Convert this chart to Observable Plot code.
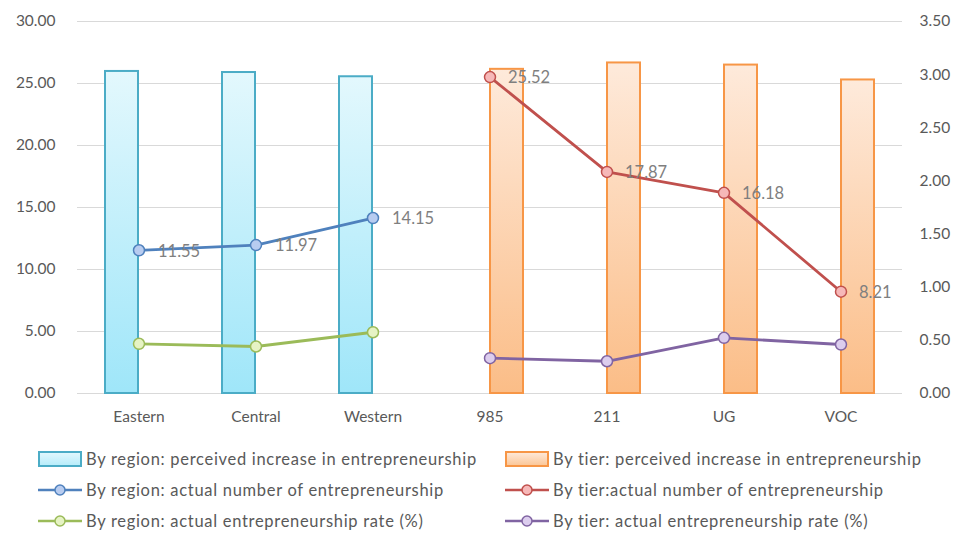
<!DOCTYPE html>
<html>
<head>
<meta charset="utf-8">
<script src="https://cdn.jsdelivr.net/npm/d3@7"></script>
<script src="https://cdn.jsdelivr.net/npm/@observablehq/plot@0.6"></script>
<style>
  html, body { margin: 0; padding: 0; background: #fff; }
  #wrap { position: relative; width: 959px; height: 534px; font-family: Lato, "Open Sans", sans-serif; }
  #legend { position: absolute; left: 0; top: 444px; width: 959px; }
  .item { position: absolute; display: flex; align-items: center; font-size: 16.5px; letter-spacing: 0.7px; color: #595959; white-space: nowrap; }
  .item svg { margin-right: 4px; }
</style>
</head>
<body>
<div id="wrap"><div id="chart"></div><div id="legend"></div></div>
<script>
const categories = ["Eastern", "Central", "Western", "985", "211", "UG", "VOC"];
const regionCats = ["Eastern", "Central", "Western"];
const tierCats = ["985", "211", "UG", "VOC"];
// perceived increase (right axis, 0–3.5)
const regionPerceived = [3.03, 3.02, 2.98];
const tierPerceived = [3.05, 3.11, 3.09, 2.95];
// actual number of entrepreneurship (left axis, 0–30)
const regionActualNumber = [11.55, 11.97, 14.15];
const tierActualNumber = [25.52, 17.87, 16.18, 8.21];
// actual entrepreneurship rate (%) (left axis)
const regionRate = [4.01, 3.79, 4.94];
const tierRate = [2.85, 2.60, 4.49, 3.95];
const leftTicks = [0, 5, 10, 15, 20, 25, 30];
const rightTicks = [0, 0.5, 1, 1.5, 2, 2.5, 3, 3.5];

const k = 30 / 3.5;
const zip = (cats, vals) => cats.map((c, i) => ({c, v: vals[i]}));
const rP = zip(regionCats, regionPerceived);
const tP = zip(tierCats, tierPerceived);
const rN = zip(regionCats, regionActualNumber);
const tN = zip(tierCats, tierActualNumber);
const rR = zip(regionCats, regionRate);
const tR = zip(tierCats, tierRate);

const blue = "#4f81bd", red = "#c0504d", green = "#9bbb59", purple = "#8064a2";
const font = "Lato, 'Open Sans', sans-serif";

const svg = Plot.plot({
  width: 959,
  height: 440,
  marginTop: 21,
  marginBottom: 47,
  marginLeft: 77,
  marginRight: 57,
  style: {fontFamily: font, fontSize: "15.5px", color: "#595959", background: "#fff"},
  x: {domain: categories, padding: 0, axis: null},
  y: {domain: [0, 30], axis: null},
  marks: [
    Plot.ruleY(leftTicks, {stroke: "#d9d9d9", strokeWidth: 1.2}),
    Plot.barY(rP, {x: "c", y: d => d.v * k, insetLeft: 25, insetRight: 59, fill: "url(#gBlue)", stroke: "#4bacc6", strokeWidth: 2, filter: null, style: {filter: "drop-shadow(1px 1px 1.5px rgba(0,0,0,0.25))"}}),
    Plot.barY(tP, {x: "c", y: d => d.v * k, insetLeft: 59, insetRight: 25, fill: "url(#gOrange)", stroke: "#f79646", strokeWidth: 2, filter: null, style: {filter: "drop-shadow(1px 1px 1.5px rgba(0,0,0,0.25))"}}),
    Plot.line(rN, {x: "c", y: "v", stroke: blue, strokeWidth: 2.8}),
    Plot.line(tN, {x: "c", y: "v", stroke: red, strokeWidth: 2.8}),
    Plot.line(rR, {x: "c", y: "v", stroke: green, strokeWidth: 2.8}),
    Plot.line(tR, {x: "c", y: "v", stroke: purple, strokeWidth: 2.8}),
    Plot.dot(rN, {x: "c", y: "v", r: 5.5, fill: "#b8ccf0", stroke: blue, strokeWidth: 1.5}),
    Plot.dot(tN, {x: "c", y: "v", r: 5.5, fill: "#f6b8b8", stroke: red, strokeWidth: 1.5}),
    Plot.dot(rR, {x: "c", y: "v", r: 5.5, fill: "#e6f3c4", stroke: green, strokeWidth: 1.5}),
    Plot.dot(tR, {x: "c", y: "v", r: 5.5, fill: "#dccdee", stroke: purple, strokeWidth: 1.5}),
    Plot.text(rN, {x: "c", y: "v", text: d => d.v.toFixed(2), dx: 19, textAnchor: "start", fill: "#7f7f7f", fontSize: 16.5, dy: 1}),
    Plot.text(tN, {x: "c", y: "v", text: d => d.v.toFixed(2), dx: 18, textAnchor: "start", fill: "#7f7f7f", fontSize: 16.5, dy: 1}),
    Plot.axisY(leftTicks, {anchor: "left", label: null, tickSize: 0, tickPadding: 22, tickFormat: d => d.toFixed(2), fill: "#595959", fontSize: 15.5}),
    Plot.axisY(rightTicks.map(v => v * k), {anchor: "right", label: null, tickSize: 0, tickPadding: 17, tickFormat: d => (d / k).toFixed(2), fill: "#595959", fontSize: 15.5}),
    Plot.axisX(categories, {anchor: "bottom", label: null, tickSize: 0, tickPadding: 17, fill: "#595959", fontSize: 15.5})
  ]
});

const defs = document.createElementNS("http://www.w3.org/2000/svg", "defs");
defs.innerHTML = `
  <linearGradient id="gBlue" x1="0" y1="0" x2="0" y2="1">
    <stop offset="0" stop-color="#e3f8fd"/>
    <stop offset="1" stop-color="#9fe6f9"/>
  </linearGradient>
  <linearGradient id="gOrange" x1="0" y1="0" x2="0" y2="1">
    <stop offset="0" stop-color="#feeadb"/>
    <stop offset="1" stop-color="#fbbd87"/>
  </linearGradient>`;
svg.insertBefore(defs, svg.firstChild);
document.getElementById("chart").appendChild(svg);

// legend
const legendItems = [
  {label: "By region: perceived increase in entrepreneurship", type: "bar", fill: "url(#lgBlue)", stroke: "#4bacc6", left: 38, top: 16},
  {label: "By tier: perceived increase in entrepreneurship", type: "bar", fill: "url(#lgOrange)", stroke: "#f79646", left: 505, top: 16},
  {label: "By region: actual number of entrepreneurship", type: "line", stroke: blue, fill: "#b8ccf0", left: 38, top: 47},
  {label: "By tier:actual number of entrepreneurship", type: "line", stroke: red, fill: "#f6b8b8", left: 505, top: 47},
  {label: "By region: actual entrepreneurship rate (%)", type: "line", stroke: green, fill: "#e6f3c4", left: 38, top: 78},
  {label: "By tier: actual entrepreneurship rate (%)", type: "line", stroke: purple, fill: "#dccdee", left: 505, top: 78}
];
const legend = document.getElementById("legend");
legend.innerHTML = `<svg width="0" height="0" style="position:absolute"><defs>
  <linearGradient id="lgBlue" x1="0" y1="0" x2="0" y2="1"><stop offset="0" stop-color="#e3f8fd"/><stop offset="1" stop-color="#b5ecfa"/></linearGradient>
  <linearGradient id="lgOrange" x1="0" y1="0" x2="0" y2="1"><stop offset="0" stop-color="#feeadb"/><stop offset="1" stop-color="#fbc595"/></linearGradient>
</defs></svg>`;
for (const it of legendItems) {
  const div = document.createElement("div");
  div.className = "item";
  div.style.left = it.left + "px";
  div.style.top = (it.top - 11) + "px";
  const sw = it.type === "bar"
    ? `<svg width="44" height="20"><rect x="1" y="3" width="42" height="14" fill="${it.fill}" stroke="${it.stroke}" stroke-width="2"/></svg>`
    : `<svg width="44" height="20"><line x1="0" y1="10" x2="44" y2="10" stroke="${it.stroke}" stroke-width="2.5"/><circle cx="22" cy="10" r="5" fill="${it.fill}" stroke="${it.stroke}" stroke-width="1.5"/></svg>`;
  div.innerHTML = sw + `<span>${it.label}</span>`;
  legend.appendChild(div);
}
</script>
</body>
</html>
